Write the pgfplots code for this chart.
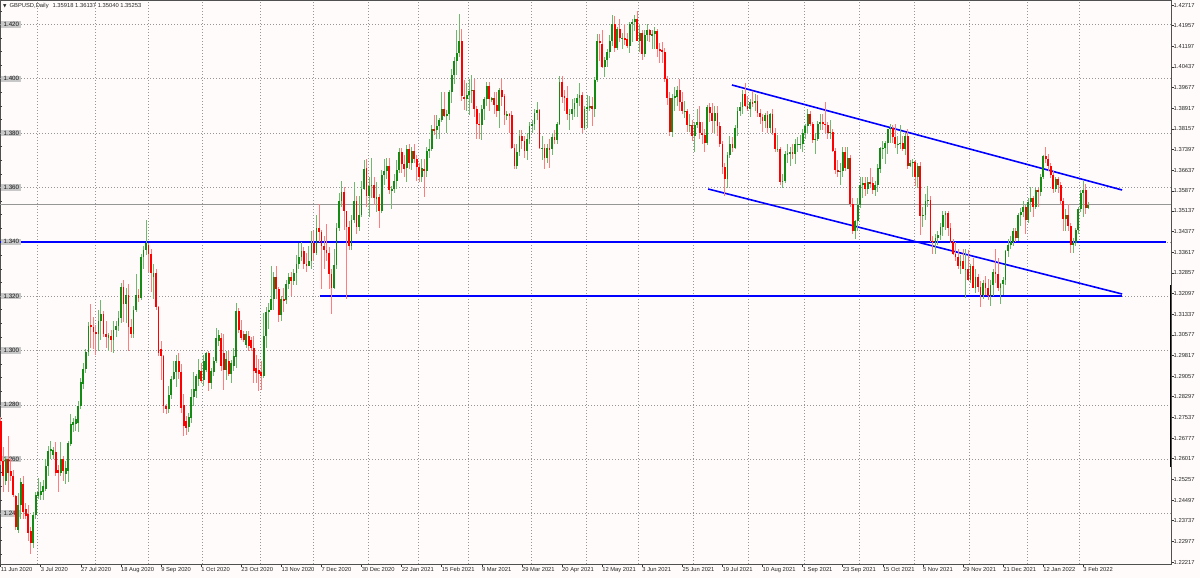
\documentclass[border=0pt]{standalone}
\usepackage{fontspec}
\setmainfont{Liberation Sans}
\newfontfamily\dejavu{DejaVu Sans}
\usepackage{pgfplots}
\usepackage{pgfplotstable}
\pgfplotsset{compat=1.18}
\definecolor{bgcol}{RGB}{255,251,250}
\definecolor{upbody}{RGB}{20,140,20}
\definecolor{upwick}{RGB}{110,185,110}
\definecolor{dnbody}{RGB}{255,0,0}
\definecolor{dnwick}{RGB}{255,125,125}
\definecolor{gridcol}{RGB}{150,150,150}
\definecolor{framecol}{RGB}{80,80,80}
\definecolor{boxgray}{RGB}{200,200,200}
\definecolor{boxdark}{RGB}{110,110,110}
\definecolor{pricegray}{RGB}{150,150,150}
\newcommand\labfont{\fontsize{5.8}{6.5}\selectfont}

\pgfplotstableread{
i o h l c
0 1.2740 1.2755 1.2580 1.2595
1 1.2595 1.2645 1.2480 1.2540
2 1.2520 1.2610 1.2505 1.2600
3 1.2600 1.2686 1.2480 1.2550
4 1.2555 1.2600 1.2520 1.2540
5 1.2540 1.2560 1.2460 1.2470
6 1.2465 1.2470 1.2340 1.2350
7 1.2340 1.2475 1.2330 1.2430
8 1.2430 1.2530 1.2380 1.2515
9 1.2510 1.2540 1.2380 1.2405
10 1.2415 1.2440 1.2380 1.2390
11 1.2400 1.2430 1.2300 1.2330
12 1.2335 1.2350 1.2252 1.2290
13 1.2292 1.2405 1.2275 1.2395
14 1.2395 1.2480 1.2380 1.2470
15 1.2465 1.2530 1.2455 1.2478
16 1.2470 1.2515 1.2450 1.2482
17 1.2480 1.2525 1.2450 1.2500
18 1.2490 1.2600 1.2483 1.2575
19 1.2575 1.2650 1.2540 1.2630
20 1.2630 1.2668 1.2600 1.2636
21 1.2615 1.2645 1.2600 1.2633
22 1.2625 1.2662 1.2538 1.2551
23 1.2560 1.2580 1.2480 1.2548
24 1.2550 1.2665 1.2540 1.2600
25 1.2600 1.2610 1.2520 1.2555
26 1.2545 1.2594 1.2508 1.2569
27 1.2555 1.2668 1.2515 1.2660
28 1.2655 1.2766 1.2650 1.2730
29 1.2725 1.2750 1.2700 1.2737
30 1.2730 1.2760 1.2705 1.2748
31 1.2735 1.2815 1.2700 1.2797
32 1.2797 1.2900 1.2785 1.2883
33 1.2877 1.2955 1.2860 1.2932
34 1.2932 1.3006 1.2917 1.2994
35 1.2994 1.3105 1.2980 1.3092
36 1.3095 1.3170 1.3010 1.3085
37 1.3085 1.3125 1.3005 1.3070
38 1.3070 1.3095 1.2985 1.3060
39 1.3060 1.3150 1.3000 1.3110
40 1.3110 1.3185 1.3040 1.3135
41 1.3135 1.3145 1.3050 1.3060
42 1.3060 1.3110 1.3010 1.3050
43 1.3045 1.3065 1.3000 1.3058
44 1.3055 1.3075 1.2995 1.3040
45 1.3040 1.3110 1.2990 1.3075
46 1.3075 1.3110 1.3050 1.3090
47 1.3090 1.3145 1.3070 1.3120
48 1.3120 1.3250 1.3100 1.3235
49 1.3235 1.3260 1.3105 1.3170
50 1.3170 1.3230 1.3100 1.3205
51 1.3205 1.3245 1.3000 1.3085
52 1.3085 1.3115 1.3045 1.3060
53 1.3060 1.3165 1.3045 1.3150
54 1.3150 1.3280 1.3140 1.3205
55 1.3205 1.3225 1.3180 1.3195
56 1.3195 1.3355 1.3185 1.3345
57 1.3345 1.3385 1.3300 1.3370
58 1.3370 1.3482 1.3350 1.3396
59 1.3390 1.3395 1.3290 1.3355
60 1.3355 1.3375 1.3215 1.3285
61 1.3270 1.3320 1.3190 1.3285
62 1.3285 1.3300 1.3150 1.3160
63 1.3160 1.3165 1.2980 1.2990
64 1.3004 1.3035 1.2890 1.2980
65 1.2980 1.2985 1.2770 1.2795
66 1.2795 1.2805 1.2765 1.2785
67 1.2785 1.2870 1.2770 1.2835
68 1.2835 1.2905 1.2820 1.2895
69 1.2895 1.2960 1.2890 1.2920
70 1.2920 1.2985 1.2865 1.2960
71 1.2960 1.2990 1.2895 1.2920
72 1.2920 1.2950 1.2770 1.2790
73 1.2800 1.2840 1.2685 1.2721
74 1.2740 1.2760 1.2690 1.2715
75 1.2720 1.2770 1.2700 1.2755
76 1.2750 1.2860 1.2735 1.2830
77 1.2830 1.2920 1.2795 1.2860
78 1.2850 1.2915 1.2825 1.2906
79 1.2895 1.2967 1.2869 1.2930
80 1.2925 1.2955 1.2881 1.2887
81 1.2890 1.2985 1.2869 1.2960
82 1.2930 1.2995 1.2920 1.2991
83 1.2990 1.3000 1.2850 1.2880
84 1.2880 1.2935 1.2860 1.2924
85 1.2920 1.2975 1.2905 1.2961
86 1.2960 1.3083 1.2955 1.3047
87 1.3034 1.3077 1.3016 1.3059
88 1.3047 1.3065 1.2924 1.2942
89 1.2990 1.3059 1.2856 1.2930
90 1.2930 1.2998 1.2893 1.2967
91 1.2960 1.2998 1.2906 1.2912
92 1.2912 1.2967 1.2881 1.2955
93 1.2942 1.3010 1.2924 1.2979
94 1.2975 1.3175 1.2936 1.3145
95 1.3145 1.3157 1.3065 1.3077
96 1.3077 1.3114 1.3040 1.3047
97 1.3059 1.3070 1.3030 1.3040
98 1.3022 1.3071 1.3010 1.3059
99 1.3053 1.3071 1.2998 1.3016
100 1.3040 1.3050 1.3000 1.3010
101 1.3010 1.3053 1.2881 1.2924
102 1.2936 1.2985 1.2881 1.2918
103 1.2930 1.2967 1.2850 1.2912
104 1.2920 1.2960 1.2855 1.2906
105 1.2906 1.3139 1.2900 1.3053
106 1.3053 1.3160 1.3010 1.3140
107 1.3140 1.3176 1.3080 1.3150
108 1.3150 1.3312 1.3150 1.3190
109 1.3190 1.3290 1.3150 1.3270
110 1.3270 1.3310 1.3190 1.3225
111 1.3225 1.3235 1.3105 1.3130
112 1.3130 1.3200 1.3110 1.3190
113 1.3190 1.3230 1.3140 1.3185
114 1.3185 1.3260 1.3170 1.3245
115 1.3245 1.3285 1.3225 1.3270
116 1.3270 1.3290 1.3200 1.3255
117 1.3255 1.3300 1.3240 1.3285
118 1.3285 1.3350 1.3240 1.3320
119 1.3320 1.3395 1.3300 1.3345
120 1.3345 1.3400 1.3330 1.3365
121 1.3365 1.3380 1.3300 1.3320
122 1.3320 1.3360 1.3290 1.3310
123 1.3310 1.3385 1.3310 1.3330
124 1.3330 1.3440 1.3300 1.3395
125 1.3395 1.3440 1.3330 1.3360
126 1.3360 1.3500 1.3350 1.3450
127 1.3450 1.3540 1.3400 1.3435
128 1.3435 1.3445 1.3225 1.3385
129 1.3385 1.3420 1.3300 1.3370
130 1.3370 1.3465 1.3330 1.3360
131 1.3360 1.3380 1.3225 1.3280
132 1.3280 1.3300 1.3135 1.3230
133 1.3230 1.3375 1.3225 1.3315
134 1.3315 1.3470 1.3300 1.3450
135 1.3450 1.3580 1.3440 1.3550
136 1.3550 1.3625 1.3530 1.3585
137 1.3585 1.3600 1.3445 1.3515
138 1.3515 1.3515 1.3188 1.3455
139 1.3455 1.3475 1.3370 1.3385
140 1.3385 1.3500 1.3370 1.3480
141 1.3480 1.3620 1.3470 1.3550
142 1.3550 1.3570 1.3430 1.3455
143 1.3455 1.3570 1.3440 1.3500
144 1.3500 1.3625 1.3490 1.3595
145 1.3595 1.3700 1.3590 1.3670
146 1.3670 1.3705 1.3530 1.3570
147 1.3570 1.3640 1.3490 1.3605
148 1.3605 1.3710 1.3560 1.3610
149 1.3610 1.3640 1.3535 1.3560
150 1.3560 1.3620 1.3510 1.3565
151 1.3565 1.3575 1.3450 1.3515
152 1.3515 1.3665 1.3505 1.3645
153 1.3645 1.3705 1.3610 1.3660
154 1.3660 1.3710 1.3630 1.3680
155 1.3680 1.3710 1.3575 1.3590
156 1.3590 1.3605 1.3520 1.3595
157 1.3595 1.3650 1.3580 1.3625
158 1.3625 1.3700 1.3595 1.3665
159 1.3665 1.3745 1.3655 1.3730
160 1.3730 1.3745 1.3655 1.3685
161 1.3685 1.3720 1.3640 1.3670
162 1.3670 1.3755 1.3620 1.3740
163 1.3740 1.3760 1.3670 1.3690
164 1.3690 1.3750 1.3665 1.3735
165 1.3735 1.3760 1.3690 1.3705
166 1.3705 1.3720 1.3625 1.3675
167 1.3675 1.3690 1.3620 1.3640
168 1.3640 1.3705 1.3620 1.3670
169 1.3670 1.3705 1.3565 1.3660
170 1.3660 1.3750 1.3640 1.3735
171 1.3735 1.3780 1.3710 1.3740
172 1.3740 1.3830 1.3735 1.3815
173 1.3815 1.3865 1.3795 1.3810
174 1.3810 1.3865 1.3780 1.3825
175 1.3825 1.3855 1.3780 1.3850
176 1.3850 1.3950 1.3840 1.3890
177 1.3890 1.3950 1.3860 1.3865
178 1.3865 1.3885 1.3800 1.3870
179 1.3870 1.3960 1.3850 1.3950
180 1.3950 1.4035 1.3910 1.4015
181 1.4015 1.4080 1.3980 1.4065
182 1.4065 1.4180 1.4015 1.4095
183 1.4095 1.4240 1.4080 1.4140
184 1.4140 1.4185 1.3920 1.3935
185 1.3935 1.3995 1.3885 1.3925
186 1.3925 1.3985 1.3880 1.3940
187 1.3940 1.4000 1.3865 1.3955
188 1.3955 1.4015 1.3910 1.3960
189 1.3960 1.4000 1.3860 1.3890
190 1.3890 1.3900 1.3780 1.3835
191 1.3835 1.3875 1.3780 1.3830
192 1.3830 1.3905 1.3775 1.3890
193 1.3890 1.3935 1.3850 1.3925
194 1.3925 1.3990 1.3900 1.3975
195 1.3975 1.3990 1.3880 1.3925
196 1.3925 1.3935 1.3915 1.3930
197 1.3930 1.3950 1.3870 1.3905
198 1.3905 1.3950 1.3860 1.3880
199 1.3880 1.3965 1.3820 1.3960
200 1.3960 1.4000 1.3900 1.3935
201 1.3935 1.3945 1.3830 1.3865
202 1.3865 1.3880 1.3850 1.3870
203 1.3870 1.3875 1.3800 1.3865
204 1.3865 1.3880 1.3740 1.3745
205 1.3745 1.3760 1.3670 1.3680
206 1.3680 1.3760 1.3670 1.3730
207 1.3730 1.3810 1.3715 1.3790
208 1.3790 1.3810 1.3740 1.3770
209 1.3770 1.3790 1.3710 1.3735
210 1.3735 1.3800 1.3700 1.3780
211 1.3780 1.3840 1.3760 1.3825
212 1.3825 1.3850 1.3800 1.3835
213 1.3835 1.3890 1.3810 1.3875
214 1.3875 1.3915 1.3850 1.3885
215 1.3885 1.3890 1.3740 1.3745
216 1.3745 1.3790 1.3700 1.3745
217 1.3745 1.3760 1.3670 1.3710
218 1.3710 1.3760 1.3690 1.3745
219 1.3745 1.3780 1.3670 1.3740
220 1.3740 1.3800 1.3720 1.3785
221 1.3785 1.3810 1.3760 1.3775
222 1.3775 1.3840 1.3760 1.3835
223 1.3835 1.4010 1.3830 1.3990
224 1.3990 1.4010 1.3910 1.3935
225 1.3935 1.3960 1.3880 1.3930
226 1.3930 1.3975 1.3850 1.3870
227 1.3870 1.3890 1.3810 1.3870
228 1.3870 1.3925 1.3850 1.3890
229 1.3890 1.3930 1.3860 1.3910
230 1.3910 1.3945 1.3860 1.3930
231 1.3930 1.3985 1.3900 1.3940
232 1.3940 1.3950 1.3800 1.3820
233 1.3820 1.3900 1.3810 1.3890
234 1.3890 1.3940 1.3820 1.3895
235 1.3895 1.3935 1.3880 1.3900
236 1.3900 1.3935 1.3825 1.3890
237 1.3890 1.4005 1.3860 1.3995
238 1.3995 1.4165 1.3990 1.4140
239 1.4140 1.4165 1.4065 1.4130
240 1.4130 1.4180 1.4040 1.4045
241 1.4045 1.4080 1.4005 1.4070
242 1.4070 1.4110 1.4045 1.4100
243 1.4100 1.4160 1.4075 1.4140
244 1.4140 1.4235 1.4120 1.4200
245 1.4200 1.4230 1.4100 1.4115
246 1.4115 1.4190 1.4105 1.4185
247 1.4185 1.4220 1.4135 1.4150
248 1.4150 1.4170 1.4110 1.4150
249 1.4150 1.4200 1.4125 1.4145
250 1.4145 1.4170 1.4115 1.4120
251 1.4120 1.4210 1.4095 1.4200
252 1.4200 1.4220 1.4135 1.4210
253 1.4210 1.4235 1.4175 1.4220
254 1.4220 1.4250 1.4140 1.4140
255 1.4140 1.4200 1.4100 1.4170
256 1.4170 1.4180 1.4070 1.4090
257 1.4090 1.4180 1.4080 1.4160
258 1.4160 1.4200 1.4140 1.4180
259 1.4180 1.4185 1.4135 1.4160
260 1.4160 1.4180 1.4110 1.4165
261 1.4165 1.4190 1.4110 1.4175
262 1.4175 1.4185 1.4080 1.4110
263 1.4110 1.4130 1.4060 1.4105
264 1.4105 1.4135 1.4060 1.4100
265 1.4100 1.4115 1.3990 1.4000
266 1.4000 1.4010 1.3905 1.3930
267 1.3930 1.3950 1.3790 1.3805
268 1.3805 1.3945 1.3785 1.3930
269 1.3930 1.3970 1.3880 1.3935
270 1.3935 1.3975 1.3900 1.3960
271 1.3960 1.4000 1.3880 1.3915
272 1.3915 1.3950 1.3870 1.3880
273 1.3880 1.3920 1.3855 1.3880
274 1.3880 1.3890 1.3805 1.3830
275 1.3830 1.3870 1.3805 1.3830
276 1.3830 1.3850 1.3770 1.3790
277 1.3790 1.3840 1.3730 1.3830
278 1.3830 1.3890 1.3820 1.3840
279 1.3840 1.3900 1.3780 1.3800
280 1.3800 1.3840 1.3760 1.3795
281 1.3795 1.3815 1.3730 1.3765
282 1.3765 1.3905 1.3755 1.3895
283 1.3895 1.3910 1.3840 1.3875
284 1.3875 1.3910 1.3800 1.3845
285 1.3845 1.3900 1.3800 1.3875
286 1.3875 1.3900 1.3790 1.3825
287 1.3825 1.3840 1.3750 1.3760
288 1.3760 1.3770 1.3650 1.3675
289 1.3675 1.3690 1.3570 1.3630
290 1.3630 1.3730 1.3600 1.3720
291 1.3720 1.3790 1.3710 1.3760
292 1.3760 1.3785 1.3730 1.3745
293 1.3745 1.3830 1.3740 1.3820
294 1.3820 1.3895 1.3790 1.3880
295 1.3880 1.3915 1.3865 1.3895
296 1.3895 1.3960 1.3870 1.3945
297 1.3945 1.3985 1.3895 1.3900
298 1.3900 1.3935 1.3880 1.3890
299 1.3890 1.3925 1.3860 1.3915
300 1.3915 1.3955 1.3895 1.3910
301 1.3910 1.3945 1.3880 1.3920
302 1.3920 1.3940 1.3860 1.3875
303 1.3875 1.3890 1.3835 1.3860
304 1.3860 1.3870 1.3805 1.3845
305 1.3845 1.3875 1.3820 1.3865
306 1.3865 1.3880 1.3800 1.3820
307 1.3820 1.3875 1.3800 1.3870
308 1.3870 1.3890 1.3795 1.3800
309 1.3800 1.3820 1.3730 1.3740
310 1.3740 1.3795 1.3730 1.3740
311 1.3740 1.3750 1.3610 1.3620
312 1.3620 1.3650 1.3600 1.3625
313 1.3625 1.3735 1.3615 1.3725
314 1.3725 1.3760 1.3690 1.3725
315 1.3725 1.3750 1.3680 1.3730
316 1.3730 1.3760 1.3705 1.3725
317 1.3725 1.3780 1.3685 1.3760
318 1.3760 1.3785 1.3730 1.3760
319 1.3760 1.3795 1.3740 1.3760
320 1.3760 1.3815 1.3730 1.3800
321 1.3800 1.3835 1.3780 1.3825
322 1.3825 1.3890 1.3800 1.3870
323 1.3870 1.3880 1.3825 1.3835
324 1.3835 1.3840 1.3765 1.3775
325 1.3775 1.3800 1.3725 1.3780
326 1.3780 1.3845 1.3770 1.3835
327 1.3835 1.3870 1.3810 1.3840
328 1.3840 1.3870 1.3810 1.3835
329 1.3835 1.3915 1.3800 1.3830
330 1.3830 1.3840 1.3780 1.3800
331 1.3800 1.3850 1.3780 1.3805
332 1.3805 1.3815 1.3730 1.3735
333 1.3735 1.3745 1.3650 1.3665
334 1.3665 1.3700 1.3640 1.3660
335 1.3660 1.3690 1.3610 1.3660
336 1.3660 1.3750 1.3640 1.3730
337 1.3730 1.3750 1.3660 1.3670
338 1.3670 1.3750 1.3670 1.3710
339 1.3710 1.3720 1.3530 1.3540
340 1.3540 1.3560 1.3430 1.3440
341 1.3440 1.3480 1.3410 1.3475
342 1.3475 1.3560 1.3440 1.3535
343 1.3535 1.3640 1.3525 1.3610
344 1.3610 1.3640 1.3560 1.3615
345 1.3615 1.3640 1.3570 1.3595
346 1.3595 1.3640 1.3575 1.3620
347 1.3620 1.3670 1.3600 1.3615
348 1.3615 1.3640 1.3575 1.3590
349 1.3590 1.3625 1.3570 1.3610
350 1.3610 1.3685 1.3585 1.3670
351 1.3670 1.3750 1.3655 1.3745
352 1.3745 1.3770 1.3705 1.3745
353 1.3745 1.3770 1.3685 1.3765
354 1.3765 1.3810 1.3725 1.3815
355 1.3815 1.3835 1.3765 1.3820
356 1.3820 1.3830 1.3765 1.3785
357 1.3785 1.3835 1.3745 1.3760
358 1.3760 1.3790 1.3725 1.3760
359 1.3760 1.3830 1.3740 1.3765
360 1.3765 1.3790 1.3735 1.3740
361 1.3740 1.3800 1.3720 1.3790
362 1.3790 1.3815 1.3670 1.3680
363 1.3680 1.3700 1.3675 1.3690
364 1.3690 1.3705 1.3640 1.3695
365 1.3695 1.3700 1.3605 1.3640
366 1.3640 1.3690 1.3600 1.3680
367 1.3680 1.3695 1.3425 1.3495
368 1.3495 1.3530 1.3455 1.3500
369 1.3500 1.3575 1.3480 1.3550
370 1.3550 1.3605 1.3530 1.3555
371 1.3555 1.3570 1.3400 1.3405
372 1.3405 1.3420 1.3355 1.3400
373 1.3400 1.3430 1.3355 1.3415
374 1.3415 1.3440 1.3390 1.3425
375 1.3425 1.3470 1.3405 1.3455
376 1.3455 1.3515 1.3420 1.3500
377 1.3500 1.3515 1.3445 1.3505
378 1.3505 1.3515 1.3420 1.3450
379 1.3450 1.3470 1.3395 1.3400
380 1.3400 1.3410 1.3350 1.3355
381 1.3355 1.3400 1.3330 1.3345
382 1.3345 1.3375 1.3300 1.3310
383 1.3310 1.3350 1.3280 1.3330
384 1.3330 1.3375 1.3305 1.3300
385 1.3300 1.3375 1.3195 1.3300
386 1.3300 1.3370 1.3255 1.3260
387 1.3260 1.3320 1.3250 1.3310
388 1.3310 1.3340 1.3230 1.3230
389 1.3230 1.3300 1.3210 1.3270
390 1.3270 1.3280 1.3215 1.3235
391 1.3235 1.3255 1.3160 1.3205
392 1.3205 1.3260 1.3190 1.3250
393 1.3250 1.3275 1.3205 1.3230
394 1.3230 1.3265 1.3185 1.3200
395 1.3200 1.3260 1.3165 1.3240
396 1.3240 1.3300 1.3200 1.3290
397 1.3290 1.3375 1.3250 1.3280
398 1.3280 1.3340 1.3220 1.3230
399 1.3230 1.3250 1.3170 1.3245
400 1.3245 1.3270 1.3205 1.3260
401 1.3260 1.3370 1.3240 1.3365
402 1.3365 1.3410 1.3345 1.3390
403 1.3390 1.3420 1.3375 1.3400
404 1.3400 1.3450 1.3385 1.3440
405 1.3440 1.3450 1.3400 1.3415
406 1.3415 1.3505 1.3405 1.3500
407 1.3500 1.3525 1.3460 1.3510
408 1.3510 1.3550 1.3490 1.3530
409 1.3530 1.3535 1.3430 1.3480
410 1.3480 1.3560 1.3470 1.3545
411 1.3545 1.3600 1.3510 1.3560
412 1.3560 1.3570 1.3490 1.3530
413 1.3530 1.3600 1.3520 1.3590
414 1.3590 1.3600 1.3530 1.3585
415 1.3585 1.3650 1.3570 1.3640
416 1.3640 1.3720 1.3630 1.3715
417 1.3715 1.3750 1.3690 1.3705
418 1.3705 1.3725 1.3660 1.3680
419 1.3680 1.3690 1.3635 1.3645
420 1.3645 1.3660 1.3580 1.3595
421 1.3595 1.3640 1.3585 1.3630
422 1.3630 1.3640 1.3580 1.3610
423 1.3610 1.3620 1.3535 1.3550
424 1.3550 1.3560 1.3440 1.3485
425 1.3485 1.3520 1.3440 1.3500
426 1.3500 1.3540 1.3440 1.3460
427 1.3460 1.3470 1.3360 1.3390
428 1.3390 1.3415 1.3360 1.3395
429 1.3395 1.3450 1.3385 1.3445
430 1.3445 1.3530 1.3430 1.3520
431 1.3520 1.3590 1.3510 1.3580
432 1.3580 1.3625 1.3490 1.3592
433 1.3592 1.3614 1.3504 1.3525
434 1.3525 1.3545 1.3520 1.3537
}\ohlc

\begin{document}
\begin{tikzpicture}
\fill[bgcol] (0,0) rectangle (1200pt,578pt);
\path[use as bounding box] (0,0) rectangle (1200pt,578pt);
\begin{axis}[
  at={(0pt,14pt)}, anchor=south west,
  width=1171pt, height=564pt, scale only axis,
  xmin=-0.28, xmax=467.0, ymin=1.22143, ymax=1.42901,
  axis line style={draw=framecol, line width=0.8pt},
  xtick={0,16,32,48,64,80,96,112,128,144,160,176,192,208,224,240,256,272,288,304,320,336,352,368,384,400,416,432},
  xticklabels={11 Jun 2020,3 Jul 2020,27 Jul 2020,18 Aug 2020,9 Sep 2020,1 Oct 2020,23 Oct 2020,13 Nov 2020,7 Dec 2020,30 Dec 2020,22 Jan 2021,15 Feb 2021,9 Mar 2021,29 Mar 2021,20 Apr 2021,12 May 2021,3 Jun 2021,25 Jun 2021,19 Jul 2021,10 Aug 2021,1 Sep 2021,23 Sep 2021,15 Oct 2021,5 Nov 2021,29 Nov 2021,21 Dec 2021,12 Jan 2022,3 Feb 2022},
  ytick={1.22217,1.22977,1.23737,1.24497,1.25257,1.26017,1.26777,1.27537,1.28297,1.29057,1.29817,1.30577,1.31337,1.32097,1.32857,1.33617,1.34377,1.35137,1.35877,1.36637,1.37397,1.38157,1.38917,1.39677,1.40437,1.41197,1.41957,1.42717},
  yticklabels={1.22217,1.22977,1.23737,1.24497,1.25257,1.26017,1.26777,1.27537,1.28297,1.29057,1.29817,1.30577,1.31337,1.32097,1.32857,1.33617,1.34377,1.35137,1.35877,1.36637,1.37397,1.38157,1.38917,1.39677,1.40437,1.41197,1.41957,1.42717},
  xtick pos=bottom, ytick pos=right, yticklabel pos=right,
  tick align=outside, major tick length=3pt,
  tick style={draw=black!80, line width=0.6pt},
  xticklabel style={anchor=north west, inner sep=0.5pt, xshift=-0.5pt, font=\labfont, text=black!85},
  yticklabel style={anchor=west, inner sep=0.5pt, xshift=-1pt, font=\labfont, text=black!85},
  extra x ticks={14.5,37.6,58.8,80.3,103.5,124.6,146.6,166.5,186.5,211.6,233.6,254.3,276.3,298.2,320.5,342.5,364.4,386.4,409.5,430.3},
  extra x tick labels={},
  extra x tick style={grid=major, tick style={draw=none}},
  extra y ticks={1.24,1.26,1.28,1.30,1.32,1.34,1.36,1.38,1.40,1.42},
  extra y tick labels={},
  extra y tick style={grid=major, tick style={draw=none}},
  major grid style={gridcol, dash pattern=on 1.4pt off 1.6pt, line width=0.65pt},
  /pgf/number format/assume math mode=true,
]
% current price line
\addplot[pricegray, line width=0.7pt, forget plot] coordinates {(-0.28,1.35371) (467,1.35371)};
% blue trend lines (background objects)
\addplot[blue, line width=1.6pt, forget plot] coordinates {(-0.28,1.3400) (465.0,1.3400)};
\addplot[blue, line width=1.6pt, forget plot] coordinates {(127.4,1.3200) (447.5,1.3200)};
\addplot[blue, line width=1.6pt, forget plot] coordinates {(291.8,1.39773) (447.5,1.35908)};
\addplot[blue, line width=1.6pt, forget plot] coordinates {(282.3,1.35945) (447.5,1.32080)};
% left level labels
\pgfplotsinvokeforeach{1.240,1.260,1.280,1.300,1.320,1.340,1.360,1.380,1.400,1.420}{
  \node[anchor=west, fill=boxgray, inner xsep=2.2pt, inner ysep=1.1pt, font=\fontsize{6.2}{7}\selectfont, text=black!90, xshift=1.2pt] at (axis cs:-0.28,#1) {#1};
}
\pgfplotsinvokeforeach{1.225,1.230,1.235,1.245,1.250,1.255,1.265,1.270,1.275,1.285,1.290,1.295,1.305,1.310,1.315,1.325,1.330,1.335,1.345,1.350,1.355,1.365,1.370,1.375,1.385,1.390,1.395,1.405,1.410,1.415,1.425}{
  \draw[black!75, line width=0.6pt] (axis cs:-0.28,#1) -- ++(2.5pt,0pt);
}
% wicks
\addplot[draw=none, mark=none, forget plot,
  restrict expr to domain={\thisrow{c}-\thisrow{o}}{0:1},
  error bars/.cd, y dir=both, y explicit, error mark=none,
  error bar style={draw=upwick, solid, line width=0.9pt}]
  table[x=i, y expr={(\thisrow{h}+\thisrow{l})/2}, y error expr={(\thisrow{h}-\thisrow{l})/2}] {\ohlc};
\addplot[draw=none, mark=none, forget plot,
  restrict expr to domain={\thisrow{c}-\thisrow{o}}{-1:-0.00001},
  error bars/.cd, y dir=both, y explicit, error mark=none,
  error bar style={draw=dnwick, solid, line width=0.9pt}]
  table[x=i, y expr={(\thisrow{h}+\thisrow{l})/2}, y error expr={(\thisrow{h}-\thisrow{l})/2}] {\ohlc};
% bodies
\addplot[draw=none, mark=none, forget plot,
  restrict expr to domain={\thisrow{c}-\thisrow{o}}{0:1},
  error bars/.cd, y dir=both, y explicit, error mark=none,
  error bar style={draw=upbody, solid, line width=1.8pt}]
  table[x=i, y expr={(\thisrow{o}+\thisrow{c})/2}, y error expr={max(abs(\thisrow{c}-\thisrow{o})/2,0.00004)}] {\ohlc};
\addplot[draw=none, mark=none, forget plot,
  restrict expr to domain={\thisrow{c}-\thisrow{o}}{-1:-0.00001},
  error bars/.cd, y dir=both, y explicit, error mark=none,
  error bar style={draw=dnbody, solid, line width=1.8pt}]
  table[x=i, y expr={(\thisrow{o}+\thisrow{c})/2}, y error expr={max(abs(\thisrow{c}-\thisrow{o})/2,0.00004)}] {\ohlc};
% current price box
\node[anchor=west, fill=boxdark, text=white, inner sep=0.9pt, font=\labfont, xshift=0.4pt] at (axis cs:467,1.35371) {1.35371};
% thick right segment
\draw[black, line width=2.2pt] (axis cs:467,1.32411) -- (axis cs:467,1.25713);
% header
\node[anchor=north west, inner sep=0pt, font=\labfont, text=black!85, xshift=3pt, yshift=-3pt] at (rel axis cs:0,1)
  {{\dejavu\fontsize{4.5}{5}\selectfont ▼}\hspace{3pt}GBPUSD,Daily\hspace{4pt}1.35918 1.36137 1.35040 1.35253};
\end{axis}
\end{tikzpicture}
\end{document}
